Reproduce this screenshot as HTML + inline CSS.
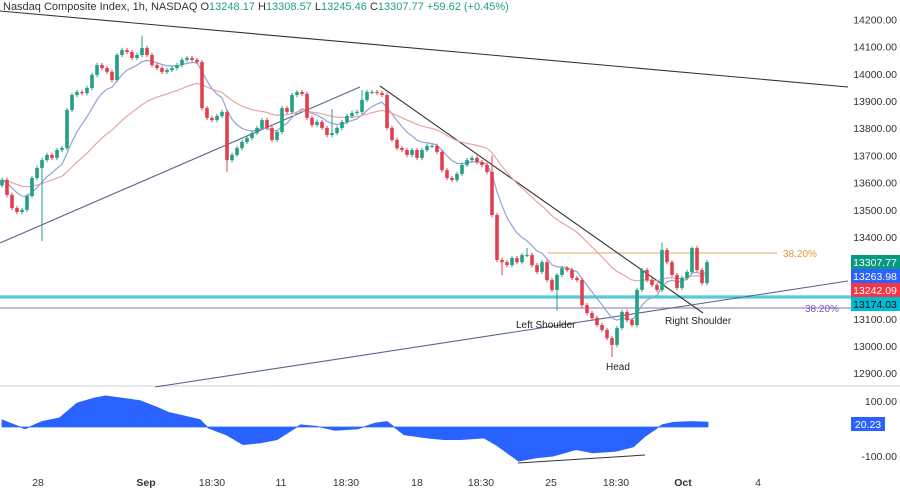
<!DOCTYPE html>
<html><head><meta charset="utf-8">
<style>
html,body{margin:0;padding:0;background:#fff;}
body{width:900px;height:489px;overflow:hidden;font-family:"Liberation Sans",sans-serif;}
svg{display:block}
</style></head>
<body>
<svg id="chart" width="900" height="489" xmlns="http://www.w3.org/2000/svg" font-family="Liberation Sans, sans-serif">
</svg>
<script>
const closes=[13610,13555,13507,13492,13500,13551,13617,13654,13683,13702,13691,13720,13727,13867,13922,13933,13929,13948,13996,14032,14021,14007,13977,14069,14087,14080,14058,14069,14095,14069,14032,14021,14007,14014,14021,14032,14051,14058,14051,14043,13874,13838,13830,13845,13860,13683,13702,13727,13749,13764,13782,13801,13830,13801,13757,13786,13874,13860,13922,13933,13926,13838,13812,13823,13801,13775,13782,13801,13823,13845,13856,13860,13904,13933,13933,13929,13922,13801,13757,13727,13720,13702,13720,13691,13720,13735,13735,13713,13646,13617,13610,13632,13665,13683,13691,13676,13665,13639,13481,13316,13308,13297,13323,13308,13334,13334,13297,13272,13308,13242,13206,13261,13286,13279,13250,13242,13150,13121,13103,13077,13059,13029,13004,13066,13125,13095,13077,13206,13279,13242,13224,13206,13353,13308,13261,13213,13250,13272,13360,13279,13231,13308];
const opens0=13590;
const bigHighs={28:14140,72:13940,98:13700,105:13360,132:13380,138:13365,66:13870};
const bigLows={8:13385,45:13640,111:13130,122:12960,100:13260};
const oscIdx=[0,4.6,8,11.5,15,18.4,20.7,24,27.6,31,33.3,36.7,39.6,41.3,44.8,48.2,51.7,55,59.7,63,66.6,71.2,74.6,77,80.4,85,88.4,91.8,96.4,98.7,103.3,106.8,110.2,114.8,118.2,122.8,126.3,128.6,132,134.3,137.8,141.2];
const oscVals=[26,-7,20,33,87,105,113,105,96,72,53,39,27,-4,-28,-64,-58,-46,8,2,-12,-7,14,20,-28,-40,-46,-46,-40,-64,-124,-112,-106,-82,-94,-88,-72,-34,8,17,20,18];
const priceTicks=[14200,14100,14000,13900,13800,13700,13600,13500,13400,13300,13200,13100,13000,12900];
const timeLabels=["28","Sep","18:30","11","18:30","18","18:30","25","18:30","Oct","4"];
const timeLabelX=[38,146,212,281,346,417,481,551,616,683,758];

const NS="http://www.w3.org/2000/svg";
const svg=document.getElementById('chart');
function el(tag,attrs,parent){const e=document.createElementNS(NS,tag);for(const k in attrs)e.setAttribute(k,attrs[k]);(parent||svg).appendChild(e);return e;}
const yP=p=>101+(13900-p)*0.2722;
const xI=i=>2+i*5;
const yO=v=>427-v*0.275;

let sep=el('line',{x1:0,y1:386,x2:900,y2:386,stroke:'#e6e8ee','stroke-width':2});



let t1=el('rect',{x:0,y:295,width:851,height:4,fill:'#8fdde8'});


let t2=el('line',{x1:0,y1:297,x2:851,y2:297,stroke:'#26b5c8','stroke-width':1});


let fibL=el('line',{x1:0,y1:308,x2:851,y2:308,stroke:'#9c94b4','stroke-width':1.3});


let fibT=el('text',{x:805,y:312,'font-size':10,fill:'#7e57c2'});fibT.textContent='38.20%';


let orL=el('line',{x1:548,y1:253,x2:777,y2:253,stroke:'#e0a860','stroke-width':1});


let orT=el('text',{x:783,y:257,'font-size':10,fill:'#e09a3c'});orT.textContent='38.20%';



const tl=[[0,11,848,87,'#333','top-trendline'],[0,243,360,87,'#56688c','rising-trendline'],[380,86,703,313,'#333','descending-trendline'],[155,387,848,281,'#56688c','neckline-trendline']];
tl.forEach(l=>{let e=el('line',{x1:l[0],y1:l[1],x2:l[2],y2:l[3],stroke:l[4],'stroke-width':1.1});

});

function ema(n){const k=2/(n+1);let r=[],p=closes[0];closes.forEach(c=>{p=c*k+p*(1-k);r.push(p);});return r;}
[[9,'#8ea5d6','ma-fast'],[30,'#e8a4a4','ma-slow']].forEach(m=>{const v=ema(m[0]);
let d=v.map((p,i)=>(i?'L':'M')+xI(i)+','+yP(p).toFixed(1)).join('');
let e=el('path',{d:d,fill:'none',stroke:m[1],'stroke-width':1.2});

});

const g=el('g',{});


closes.forEach((c,i)=>{const o=i?closes[i-1]:opens0;const up=c>=o;const col=up?'#22a085':'#e0404e';
const h=bigHighs[i]||Math.max(o,c)+8;const l=bigLows[i]||Math.min(o,c)-8;const x=xI(i);
let w=el('line',{x1:x,y1:yP(h),x2:x,y2:yP(l),stroke:col,'stroke-width':1},g);


let b=el('rect',{x:x-1.8,y:yP(Math.max(o,c)),width:3.6,height:Math.max(1,Math.abs(yP(o)-yP(c))),fill:col},g);

});

[['Left Shoulder',516,328,'left-shoulder-label'],['Right Shoulder',665,324,'right-shoulder-label'],['Head',606,370,'head-label']].forEach(a=>{
let e=el('text',{x:a[1],y:a[2],'font-size':10,fill:'#222'});e.textContent=a[0];

});

let od='M'+xI(oscIdx[0])+','+yO(0);oscIdx.forEach((ix,i)=>{od+='L'+xI(ix).toFixed(1)+','+yO(oscVals[i]).toFixed(1);});
od+='L'+xI(oscIdx[oscIdx.length-1]).toFixed(1)+','+yO(0)+'Z';
let oa=el('path',{d:od,fill:'#2962ff',stroke:'#2962ff','stroke-width':0.8,'stroke-linejoin':'round'});


let dv=el('line',{x1:518,y1:463,x2:645,y2:455,stroke:'#333','stroke-width':1});



priceTicks.forEach(p=>{let e=el('text',{x:897,y:yP(p)+4,'font-size':10.5,fill:'#333','text-anchor':'end'});e.textContent=p.toFixed(2);

});
[['100.00',401],['-100.00',456]].forEach(t=>{let e=el('text',{x:897,y:t[1]+4,'font-size':10.5,fill:'#333','text-anchor':'end'});e.textContent=t[0];

});
[['13307.77','#089981',255],['13263.98','#2962ff',269],['13242.09','#f23645',283],['13174.03','#00bcd4',297]].forEach(t=>{
let r=el('rect',{x:851,y:t[2],width:49,height:14,fill:t[1]});


let e=el('text',{x:875,y:t[2]+11,'font-size':10.5,fill:t[1]=='#00bcd4'?'#111':'#fff','text-anchor':'middle'});e.textContent=t[0];

});
let orr=el('rect',{x:851,y:417,width:34,height:14,fill:'#2962ff'});


let ort=el('text',{x:868,y:428,'font-size':10.5,fill:'#fff','text-anchor':'middle'});ort.textContent='20.23';



timeLabels.forEach((t,i)=>{let e=el('text',{x:timeLabelX[i],y:486,'font-size':10.5,fill:'#333','text-anchor':'middle','font-weight':t=='Sep'||t=='Oct'?'bold':'normal'});e.textContent=t;

});

let hd=el('text',{x:3,y:10,'font-size':11,fill:'#333'});


hd.setAttribute('xml:space','preserve');
hd.innerHTML='Nasdaq Composite Index, 1h, NASDAQ  O<tspan fill="#22a085">13248.17</tspan>  H<tspan fill="#22a085">13308.57</tspan>  L<tspan fill="#22a085">13245.46</tspan>  C<tspan fill="#22a085">13307.77</tspan>  <tspan fill="#22a085">+59.62 (+0.45%)</tspan>';
</script>
</body></html>
